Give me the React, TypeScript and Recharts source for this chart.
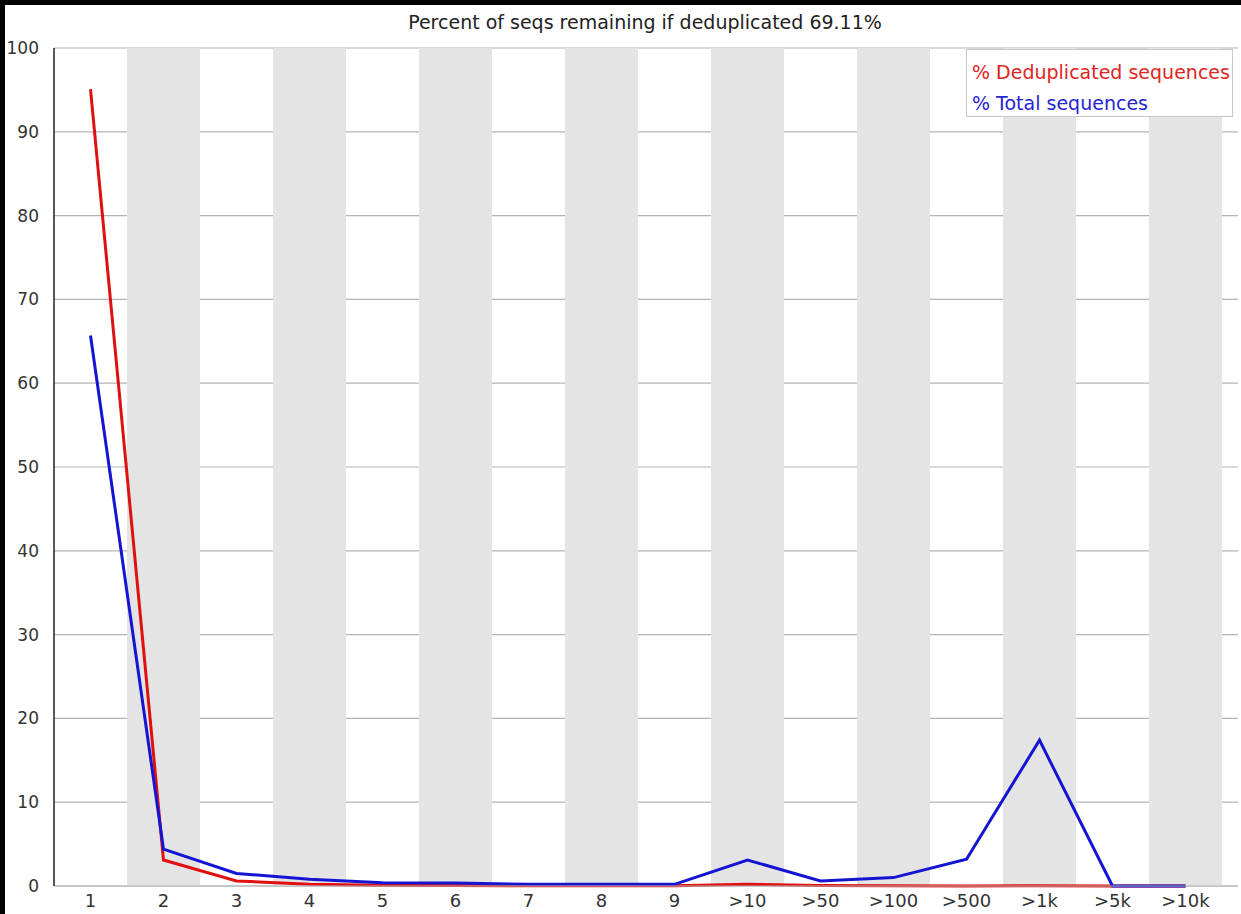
import React from "react";
import {
  LineChart,
  Line,
  XAxis,
  YAxis,
  CartesianGrid,
  ReferenceArea,
} from "recharts";

// duplication level buckets along the x axis
const levels = ["1", "2", "3", "4", "5", "6", "7", "8", "9", ">10", ">50", ">100", ">500", ">1k", ">5k", ">10k"];

// % of deduplicated sequences per duplication level
const dedupPct = [95.1, 3.1, 0.6, 0.2, 0.1, 0.05, 0.03, 0.02, 0.02, 0.2, 0.05, 0.03, 0.01, 0.02, 0, 0];

// % of total sequences per duplication level
const totalPct = [65.7, 4.4, 1.5, 0.8, 0.4, 0.35, 0.2, 0.2, 0.2, 3.1, 0.6, 1.0, 3.2, 17.4, 0, 0];

const yTicks = [0, 10, 20, 30, 40, 50, 60, 70, 80, 90, 100];

const RED = "#e01010";
const BLUE = "#1414d2";
const FONT = "'DejaVu Sans', sans-serif";

const data = levels.map((level, i) => ({ level, dedup: dedupPct[i], total: totalPct[i] }));
const shadedLevels = levels.filter((_, i) => i % 2 === 1);

export default function App() {
  return (
    <div style={{ position: "absolute", left: 0, top: 0, width: 1241, height: 914, background: "#000", overflow: "hidden" }}>
      <div style={{ position: "absolute", left: 5, top: 5, width: 1236, height: 909, background: "#fff", fontFamily: FONT }}>
        <div
          style={{
            position: "absolute",
            left: 0,
            top: 6,
            width: 1280,
            textAlign: "center",
            fontSize: 19,
            color: "#222",
          }}
        >
          Percent of seqs remaining if deduplicated 69.11%
        </div>
        <LineChart width={1236} height={909} data={data} margin={{ top: 43, right: 3, left: 5, bottom: 0 }}>
          {shadedLevels.map((lv) => (
            <ReferenceArea key={lv} x1={lv} x2={lv} fill="#e4e4e4" fillOpacity={1} stroke="none" ifOverflow="visible" />
          ))}
          <CartesianGrid vertical={false} stroke="#b4b4b4" strokeWidth={1.2} />
          <XAxis
            dataKey="level"
            scale="band"
            padding={{ left: 0, right: 16 }}
            axisLine={{ stroke: "#b4b4b4" }}
            tickLine={false}
            interval={0}
            height={28}
            tick={{ fontSize: 18, fill: "#333", fontFamily: FONT }}
          />
          <YAxis
            domain={[0, 100]}
            ticks={yTicks}
            width={44}
            axisLine={{ stroke: "#222", strokeWidth: 1.5 }}
            tickLine={false}
            tickMargin={9}
            tick={{ fontSize: 17, fill: "#333", fontFamily: FONT }}
          />
          <Line dataKey="dedup" stroke={RED} strokeWidth={3} dot={false} isAnimationActive={false} />
          <Line dataKey="total" stroke={BLUE} strokeWidth={3} dot={false} isAnimationActive={false} />
        </LineChart>
        <div
          style={{
            position: "absolute",
            left: 961,
            top: 44,
            width: 267,
            height: 68,
            border: "1px solid #c8c8c8",
            background: "#fff",
            fontSize: 19,
            lineHeight: "31px",
            paddingLeft: 5,
            paddingTop: 7,
            boxSizing: "border-box",
            whiteSpace: "nowrap",
          }}
        >
          <div style={{ color: "#e02424" }}>% Deduplicated sequences</div>
          <div style={{ color: "#2424d0" }}>% Total sequences</div>
        </div>
      </div>
    </div>
  );
}
